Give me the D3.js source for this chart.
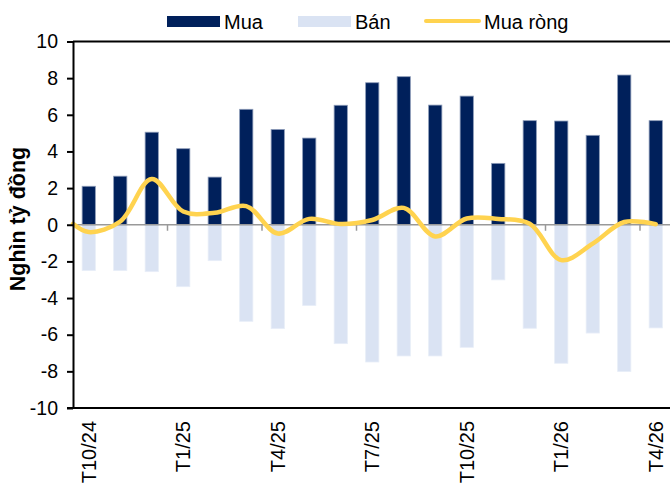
<!DOCTYPE html>
<html>
<head>
<meta charset="utf-8">
<script src="https://cdn.jsdelivr.net/npm/d3@7"></script>
<style>
  body { margin: 0; background: #fff; }
  text { font-family: "Liberation Sans", Arial, sans-serif; fill: #000; }
</style>
</head>
<body>
<script>
"use strict";

const width = 670;
const height = 488;

const months = ["T10/24", "T11/24", "T12/24", "T1/25", "T2/25", "T3/25", "T4/25",
  "T5/25", "T6/25", "T7/25", "T8/25", "T9/25", "T10/25", "T11/25", "T12/25",
  "T1/26", "T2/26", "T3/26", "T4/26"];
const mua = [2.1, 2.65, 5.05, 4.15, 2.6, 6.3, 5.2, 4.73, 6.52, 7.75, 8.08,
  6.53, 7.02, 3.35, 5.68, 5.66, 4.88, 8.17, 5.68];
const ban = [-2.5, -2.5, -2.56, -3.38, -1.96, -5.27, -5.67, -4.41, -6.49, -7.49,
  -7.16, -7.16, -6.69, -3.01, -5.65, -7.56, -5.91, -8.01, -5.63];
const muaRong = [-0.4, 0.18, 2.5, 0.72, 0.65, 1.02, -0.48, 0.32, 0.04, 0.26,
  0.92, -0.64, 0.34, 0.32, 0.05, -1.93, -1.03, 0.15, 0.03];
const lineStart = 0.05; // the yellow line begins at the y axis
const yTicks = [-10, -8, -6, -4, -2, 0, 2, 4, 6, 8, 10];
const labelEvery = 3;

const margin = { top: 41.5, left: 73, bottom: 80 };
const bandW = 31.5;

const svg = d3
  .select("body")
  .append("svg")
  .attr("width", width)
  .attr("height", height);

const x = d3
  .scaleBand()
  .domain(months)
  .range([margin.left, margin.left + bandW * months.length])
  .paddingInner(0.58)
  .paddingOuter(0.29);

const y = d3.scaleLinear().domain([-10, 10]).range([408, margin.top]);

const cx = (m) => x(m) + x.bandwidth() / 2;
const right = x.range()[1];

// Bán bars (negative)
svg
  .selectAll("rect.ban")
  .data(ban)
  .enter()
  .append("rect")
  .attr("class", "ban")
  .attr("x", (d, i) => x(months[i]))
  .attr("y", y(0))
  .attr("width", x.bandwidth())
  .attr("height", (d) => y(d) - y(0))
  .attr("fill", "#DAE3F3")
  .attr("stroke", "#E8EEF8")
  .attr("stroke-width", 0.8);

// Mua bars (positive)
svg
  .selectAll("rect.mua")
  .data(mua)
  .enter()
  .append("rect")
  .attr("class", "mua")
  .attr("x", (d, i) => x(months[i]))
  .attr("y", (d) => y(d))
  .attr("width", x.bandwidth())
  .attr("height", (d) => y(0) - y(d))
  .attr("fill", "#00205B")
  .attr("stroke", "#8C9BB8")
  .attr("stroke-width", 0.8);

// zero line with category ticks
svg
  .append("line")
  .attr("x1", margin.left)
  .attr("x2", right)
  .attr("y1", y(0))
  .attr("y2", y(0))
  .attr("stroke", "#999")
  .attr("stroke-width", 1.5);

svg
  .selectAll("line.ctick")
  .data(months.filter((m, i) => i > 0 && i % labelEvery === 0))
  .enter()
  .append("line")
  .attr("class", "ctick")
  .attr("x1", (m) => x(m) - (x.step() * x.paddingInner()) / 2)
  .attr("x2", (m) => x(m) - (x.step() * x.paddingInner()) / 2)
  .attr("y1", y(0))
  .attr("y2", y(0) + 6)
  .attr("stroke", "#999")
  .attr("stroke-width", 1.5);

// Mua ròng line
const pts = [[margin.left, y(lineStart)]].concat(
  muaRong.map((d, i) => [cx(months[i]), y(d)])
);
svg
  .append("path")
  .attr("d", d3.line().curve(d3.curveCatmullRom.alpha(0.5))(pts))
  .attr("fill", "none")
  .attr("stroke", "#FFD34F")
  .attr("stroke-width", 4.5)
  .attr("stroke-linecap", "round");

// frame: top, bottom and y axis
svg
  .append("line")
  .attr("x1", margin.left)
  .attr("x2", right)
  .attr("y1", y(10))
  .attr("y2", y(10))
  .attr("stroke", "#000")
  .attr("stroke-width", 2);

svg
  .append("line")
  .attr("x1", margin.left - 6)
  .attr("x2", right)
  .attr("y1", y(-10))
  .attr("y2", y(-10))
  .attr("stroke", "#000")
  .attr("stroke-width", 2);

const yAxis = svg
  .append("g")
  .attr("transform", "translate(" + margin.left + ",0)")
  .call(
    d3
      .axisLeft(y)
      .tickValues(yTicks)
      .tickFormat((d) => String(d))
      .tickSize(6)
      .tickPadding(9)
      .tickSizeOuter(0)
  );
yAxis.select(".domain").attr("stroke", "#000").attr("stroke-width", 2);
yAxis.selectAll(".tick line").attr("stroke", "#000").attr("stroke-width", 2);
yAxis
  .selectAll(".tick text")
  .attr("font-size", 19.5)
  .attr("font-family", "Liberation Sans, Arial, sans-serif")
  .attr("fill", "#000");

// x labels
svg
  .selectAll("text.xlab")
  .data(months.filter((m, i) => i % labelEvery === 0))
  .enter()
  .append("text")
  .attr("class", "xlab")
  .attr("transform", (m) => "translate(" + cx(m) + ",421) rotate(-90)")
  .attr("text-anchor", "end")
  .attr("dy", "0.36em")
  .attr("font-size", 20)
  .text((m) => m);

// y title
svg
  .append("text")
  .attr("transform", "translate(25,219) rotate(-90)")
  .attr("text-anchor", "middle")
  .attr("font-size", 21.5)
  .attr("font-weight", "bold")
  .text("Nghìn tỷ đồng");

// legend
const legend = [
  { name: "Mua", type: "rect", color: "#00205B", x: 167 },
  { name: "Bán", type: "rect", color: "#DAE3F3", x: 298 },
  { name: "Mua ròng", type: "line", color: "#FFD34F", x: 425 }
];
const lg = svg
  .selectAll("g.lg")
  .data(legend)
  .enter()
  .append("g")
  .attr("class", "lg")
  .attr("transform", (d) => "translate(" + d.x + ",0)");
lg.filter((d) => d.type === "rect")
  .append("rect")
  .attr("y", 16)
  .attr("width", 53)
  .attr("height", 11)
  .attr("fill", (d) => d.color);
lg.filter((d) => d.type === "line")
  .append("line")
  .attr("x1", 1)
  .attr("x2", 54)
  .attr("y1", 21)
  .attr("y2", 21)
  .attr("stroke", (d) => d.color)
  .attr("stroke-width", 4)
  .attr("stroke-linecap", "round");
lg.append("text")
  .attr("x", (d) => (d.type === "line" ? 59 : 57))
  .attr("y", 28.5)
  .attr("font-size", 20)
  .text((d) => d.name);
</script>
</body>
</html>
